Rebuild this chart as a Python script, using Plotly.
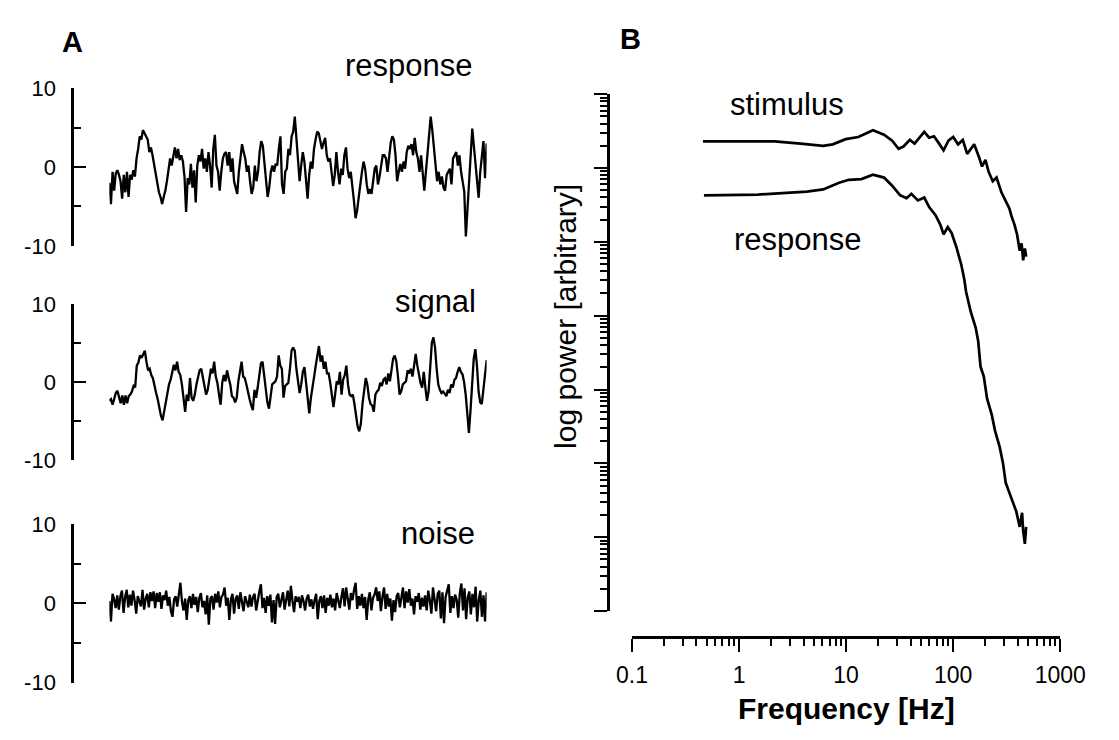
import numpy as np
import plotly.graph_objects as go

W, H = 1119, 740

# ---------------- Panel A data (time traces, arbitrary units) ----------------
response_trace = [
    -2.0, -4.7, -0.6, -3.0, -0.8, -0.4, -1.0, -1.8, -4.0, -1.0, -3.2, -0.6, -3.8, -1.0, -1.6, -0.4, -1.2,
    1.1, 2.3, 3.9, 3.5, 4.7, 4.3, 3.9, 3.5, 1.9, 2.5, 1.5, 0.2, -0.6, -2.2, -3.2, -3.8, -4.7, -3.8, -3.0,
    -1.8, -0.6, 1.1, 0.2, 1.5, 2.5, 1.1, 2.3, 0.9, 1.5, 0.7, -1.2, -5.7, -1.4, -2.2, 0.4, -2.6, -0.4, -4.5,
    0.2, 1.5, 0.7, 2.3, -0.2, 1.1, -0.6, 1.9, 0.2, -2.6, 2.3, 4.1, 0.2, -0.6, -3.0, -0.6, 1.1, 1.7, 1.9,
    0.2, 1.9, -0.6, 1.1, -1.8, -2.6, -3.4, -0.6, 1.5, 2.9, 1.9, 1.1, -0.6, 0.2, -1.8, -3.4, -2.6, 0.2,
    -1.8, -0.6, 1.9, 3.3, 2.7, 0.7, -1.4, -3.8, -2.6, -0.6, 0.2, -0.6, 0.4, 0.2, 2.3, 3.9,
    -2.2, -3.4, -0.6, -0.2, 2.3, 1.5, 3.9, 4.5, 6.4, 3.7, 0.7, -1.8, 0.2, 1.9, 0.7, -2.2, -4.0, -1.0, 0.7,
    -0.2, 2.3, 3.5, 4.5, 4.3, 3.1, 2.3, 3.1, 3.7, 1.5, 0.7, 1.1, -0.6, -2.4, -1.0, 1.9, -0.6, -2.2, -0.2,
    -1.0, 1.5, 2.5, -0.2, -1.4, -0.6, -2.2, -4.3, -6.5, -5.5, -3.8, -1.8, -0.6, 0.7, -0.2, -2.2, -3.4,
    -2.8, -3.4, -1.8, -0.2, 0.2, -2.2, -1.2, 0.2, 1.5, 1.5, 1.1, -0.6, 1.5, 3.1, 3.9, 3.5, 1.5, -1.8,
    -0.6, 0.4, -0.6, 0.7, -0.2, 1.9, 2.7, 2.3, 2.9, 1.5, 3.7, 1.9, 1.1, -0.6, 1.5, -1.0, -3.0, -0.6, 1.5,
    4.3, 6.4, 4.7, 2.7, 0.2, -1.8, -0.6, -2.2, -1.2, -2.6, -3.0, -1.0, -0.6, -0.2, -2.2, 1.1, 1.5, 1.9,
    0.2, 1.5,
    -0.6, -2.2, -3.1, -8.8, -5.1, -1.4, 2.2, 4.9, 2.7, 0.6, -1.4, -3.9, -0.6, 1.8, 3.3, -1.4, 3.0,
]

signal_trace = [
    -2.4, -2.2, -2.9, -2.0, -1.4, -1.1, -1.8, -2.7, -1.7, -2.9, -1.7, -2.7, -1.8, -1.6, -1.2, -0.5, -0.7,
    2.1, 2.5, 3.4, 3.1, 3.6, 4.0, 2.6, 1.5, 1.7, 0.9, 0.5, -0.7, -1.4, -2.2, -3.4, -4.3, -4.9, -3.6, -2.4,
    -1.6, -0.3, 0.3, 1.3, 2.2, 1.5, 2.6, 1.3, 0.9, -0.3, -2.0, -3.8, -1.6, -2.4, 0.5, -2.0, -2.4, -1.6,
    -0.3, 0.7, 1.5, 1.7, 0.5, -0.5, -1.6, -1.0, 0.5, 1.7, 1.1, 2.6, 0.7, -0.1, -1.6, -2.9, -0.1, 0.9, 0.1,
    1.5, 0.5, -0.3, -1.8, -2.0, -2.6, -2.0, 0.1, 1.3, 2.6, 0.7, 0.5, -0.3, -1.4, -2.2, -3.0, -3.6, -1.0,
    -2.0, -0.7, 0.7, 2.4, 2.6, 0.7, -1.2, -2.6, -3.4, -2.0, -0.3, -0.1, 0.1, 0.7, 3.4, 2.1,
    1.7, -2.0, -0.5, -0.3, -0.1, 1.7, 4.0, 4.4, 4.0, 1.7, -0.3, -1.4, -0.3, 1.3, 1.9, -0.3, -2.4, -4.0,
    -2.0, -0.3, 0.7, 2.1, 3.4, 4.6, 2.6, 3.4, 1.7, 2.6, 1.1, 1.1, -0.1, -1.4, -3.2, -1.6, 0.1, -0.3, 1.3,
    -1.6, 0.3, 0.9, 2.1, -0.3, -1.6, -1.8, -1.6, -2.8, -4.0, -5.7, -6.3, -5.3, -2.8, -0.7, 0.5, -0.3, -2.0,
    -2.8, -3.0, -3.8, -1.6, -1.2, -1.0, -0.1, -0.5, 0.3, 0.5, -0.3, 1.1, 0.1, 1.9, 3.0, 3.4, 2.6, 0.7,
    -1.6, -1.2, -0.3, -0.1, 0.1, 1.5, 1.1, 1.7, 0.7, 2.1, 3.6, 2.1, 0.9, -0.1, -0.7, 1.3, -0.7, -2.4,
    -1.2, 1.7, 5.0, 5.7, 4.4, 1.7, -0.3, -1.0, -1.4, -1.2, -1.6, -1.8, -1.0, -1.4, -0.3, -0.7, 0.3, 0.5,
    1.3, 1.9, 1.3,
    1.0, 0.0, -1.6, -4.0, -6.5, -3.6, -0.7, 3.0, 4.2, 2.1, -1.2, -2.6, -2.8, -0.7, 0.5, 2.8,
]

noise_trace = [
    0.3, -2.3, 1.2, 0.5, -0.6, 1.0, -0.8, 0.9, 1.6, -1.2,
    0.8, 1.7, -0.5, 1.1, -0.3, 1.6, 0.4, -1.3, 0.9, 0.2,
    -0.4, 1.7, -0.8, 0.6, 1.2, -0.5, 1.4, 0.3, 1.5, -0.6,
    1.3, 0.2, 1.4, -0.7, 1.0, 0.4, 1.6, -0.3, 0.8, -1.0,
    -1.7, 0.5, 0.9, -0.4, 1.1, 2.6, 0.2, -0.9, 0.6, -2.1,
    0.4, 0.9, -0.6, 1.2, -0.2, 0.8, -1.1, 0.7, 1.3, -0.5,
    0.3, -1.4, 1.0, -2.7, 0.6, 0.9, -0.8, 1.2, 0.1, 1.5,
    -0.5, 0.8, 1.1, 2.0, -0.3, 0.7, -2.1, 0.5, 1.2, -1.3,
    0.6, 1.0, -0.7, 1.4, 0.2, -1.0, 0.9, 0.3, -0.5, 1.1,
    -0.4, 0.8, 1.2, -0.9, 0.5, 1.5, 2.4, -0.6, 0.7, -1.2,
    0.9, -0.3, 1.1, -2.4, 0.4, -2.6, 0.8, 1.2, -0.5, 0.6,
    1.4, -0.8, 0.7, 1.6, -0.4, 2.2, 0.3, -1.1, 0.9, 0.2,
    0.8, -0.6, 1.0, 0.3, -0.9, 0.6, 1.1, -0.4, 0.5, -0.7,
    0.4, 1.2, -2.0, 0.3, 0.9, -0.6, 1.0, -1.2, 0.7, -0.3,
    1.1, -0.5, 0.6, -0.9, 1.3, 0.2, -0.6, 0.8, 1.9, -0.4,
    2.0, 0.6, -0.8, 1.3, 0.4, 1.7, 2.6, -0.7, 0.9, -0.3,
    1.2, -0.6, 0.8, -2.1, 0.5, 1.4, -0.9, 0.7, 1.1, 2.0,
    0.3, 1.5, -1.0, 0.8, 2.0, -0.7, 1.2, -0.4, 0.6, -2.2,
    0.4, -1.1, 0.9, 1.3, -0.5, 0.7, 2.0, -0.6, 1.5, 0.1,
    1.8, -0.3, 0.6, -1.4, 0.9, 0.2, 1.3, -0.8, 0.7, -0.4,
    1.0, -0.9, 1.6, 0.4, -1.3, 2.0, 0.5, -1.0, 1.2, 1.6,
    -1.9, 1.4, -2.5, 0.8, 1.6, 2.4, -1.2, 0.9, -0.6, 1.1,
    0.5, -1.8, 1.3, 2.5, -0.9, 1.9, -2.0, 0.7, 1.5, -1.4,
    1.2, -0.5, 2.1, -2.3, 0.4, 1.6, -1.7, 1.0, -2.3, 1.4,
]

trace_names = ["response", "signal", "noise"]
a_tickvals = [-10, 0, 10]
a_ticktext = ["-10", "0", "10"]

# ---------------- Panel B data (power spectra) ----------------
stim_freq = [0.46, 1.0, 2.15, 3.75, 6.1, 7.5, 9.9, 13.0, 17.8, 22.6, 26.9, 30.9, 34.3, 39.4, 43.6,
             48.4, 53.7, 59.6, 66.1, 72.3, 81.3, 90.2, 100, 111, 123, 135, 146, 157, 174, 186,
             200, 214, 234, 254, 282, 313, 335, 350, 374, 395, 418, 435, 450, 467, 480]
stim_logp = [6.36, 6.36, 6.36, 6.33, 6.30, 6.32, 6.39, 6.42, 6.51, 6.45, 6.37, 6.26, 6.29, 6.38, 6.33,
             6.41, 6.49, 6.41, 6.43, 6.35, 6.24, 6.37, 6.42, 6.32, 6.38, 6.19, 6.26, 6.32, 6.15, 6.02,
             6.11, 5.95, 5.82, 5.87, 5.67, 5.54, 5.45, 5.35, 5.23, 5.10, 4.88, 4.98, 4.75, 4.91, 4.80]

resp_freq = [0.47, 1.5, 4.3, 6.1, 8.6, 10.6, 13.9, 17.8, 22.6, 26.9, 32, 36.7, 40.7, 46.8, 53.7,
             59.6, 68.4, 75.9, 81.3, 88.9, 96.6, 107, 119, 127, 132, 146, 162, 171, 180, 193,
             207, 229, 246, 272, 292, 309, 333, 360, 388, 418, 440, 450, 467, 480]
resp_logp = [5.63, 5.64, 5.68, 5.71, 5.80, 5.84, 5.85, 5.91, 5.87, 5.76, 5.63, 5.59, 5.65, 5.56, 5.60,
             5.47, 5.36, 5.23, 5.10, 5.20, 5.12, 4.93, 4.69, 4.49, 4.32, 4.05, 3.84, 3.66, 3.31, 3.18,
             2.88, 2.66, 2.44, 2.22, 2.00, 1.74, 1.61, 1.48, 1.35, 1.14, 1.33, 1.09, 0.91, 1.14]

b_tickvals = [0.1, 1, 10, 100, 1000]
b_ticktext = ["0.1", "1", "10", "100", "1000"]

# ---------------- helpers (pixel -> paper) ----------------
def px(x):
    return x / W

def py(y):
    return 1 - y / H

FONT = "Liberation Sans"
fig = go.Figure()

# Panel A: three stacked traces, each with own axes
a_axes = [(79, 242), (302, 464), (530, 694)]   # pixel y of +10 and -10
label_pos = [(477, 55), (480, 300), (479, 540)]
for i, (name, vals) in enumerate(zip(trace_names, [response_trace, signal_trace, noise_trace])):
    k = "" if i == 0 else str(i + 1)
    t = np.linspace(0.0, 1.0, len(vals))
    fig.add_trace(go.Scatter(x=t, y=vals, mode="lines", xaxis="x" + k, yaxis="y" + k,
                             line=dict(color="black", width=2.3), showlegend=False,
                             hoverinfo="skip"))
    top, bot = a_axes[i]
    fig.layout["xaxis" + k] = dict(domain=[px(97), px(489)], range=[0, 1], visible=False,
                                   anchor="y" + k)
    fig.layout["yaxis" + k] = dict(
        domain=[py(bot), py(top)], range=[-10, 10], anchor="free", position=px(58.5),
        showline=True, linewidth=3, linecolor="black", showgrid=False, zeroline=False,
        ticks="inside", ticklen=12, tickwidth=2, tickcolor="black",
        tickmode="array", tickvals=a_tickvals, ticktext=a_ticktext,
        minor=dict(tickmode="array", tickvals=[-5, 5], ticks="inside", ticklen=7,
                   tickwidth=2, tickcolor="black", showgrid=False),
        tickfont=dict(family=FONT, size=22, color="black"), ticklabelstandoff=11,
    )
    lx, ly = label_pos[i]
    fig.add_annotation(text=name, x=px(lx), y=py(ly), xref="paper", yref="paper",
                       xanchor="right", yanchor="middle", showarrow=False,
                       font=dict(family=FONT, size=31, color="black"))

# Panel B: spectra on log-log axes
fig.add_trace(go.Scatter(x=stim_freq, y=[10 ** p for p in stim_logp], mode="lines",
                         xaxis="x4", yaxis="y4", line=dict(color="black", width=2.7),
                         showlegend=False, hoverinfo="skip"))
fig.add_trace(go.Scatter(x=resp_freq, y=[10 ** p for p in resp_logp], mode="lines",
                         xaxis="x4", yaxis="y4", line=dict(color="black", width=2.7),
                         showlegend=False, hoverinfo="skip"))

x_minor = [m * 10.0 ** e for e in range(-1, 3) for m in range(2, 10)]
y_minor = [m * 10.0 ** e for e in range(0, 7) for m in range(2, 10)]

fig.layout["xaxis4"] = dict(
    type="log", range=[-1, 3], domain=[px(640), px(1085)], anchor="free", position=py(647),
    showline=True, linewidth=3, linecolor="black", showgrid=False, zeroline=False,
    ticks="outside", ticklen=13, tickwidth=2, tickcolor="black",
    tickmode="array", tickvals=b_tickvals, ticktext=b_ticktext,
    minor=dict(tickmode="array", tickvals=x_minor, ticks="outside", ticklen=7, tickwidth=2,
               tickcolor="black", showgrid=False),
    tickfont=dict(family=FONT, size=23, color="black"), ticklabelstandoff=3,
)
fig.layout["yaxis4"] = dict(
    type="log", range=[0, 7], domain=[py(620), py(85)], anchor="free", position=px(615),
    showline=True, linewidth=3, linecolor="black", showgrid=False, zeroline=False,
    ticks="outside", ticklen=13, tickwidth=2, tickcolor="black",
    tickmode="array", tickvals=[10 ** k for k in range(0, 8)], showticklabels=False,
    minor=dict(tickmode="array", tickvals=y_minor, ticks="outside", ticklen=7, tickwidth=2,
               tickcolor="black", showgrid=False),
)

# Panel B texts
fig.add_annotation(text="stimulus", x=px(740), y=py(96), xref="paper", yref="paper",
                   xanchor="left", yanchor="middle", showarrow=False,
                   font=dict(family=FONT, size=31, color="black"))
fig.add_annotation(text="response", x=px(744), y=py(235), xref="paper", yref="paper",
                   xanchor="left", yanchor="middle", showarrow=False,
                   font=dict(family=FONT, size=31, color="black"))
fig.add_annotation(text="<b>Frequency [Hz]</b>", x=px(863), y=py(721), xref="paper", yref="paper",
                   xanchor="center", yanchor="middle", showarrow=False,
                   font=dict(family=FONT, size=30, color="black"))
fig.add_annotation(text="log power [arbitrary]", x=px(571), y=py(315), xref="paper", yref="paper",
                   xanchor="center", yanchor="middle", showarrow=False, textangle=-90,
                   font=dict(family=FONT, size=30, color="black"))

# Panel letters
fig.add_annotation(text="<b>A</b>", x=px(46), y=py(31), xref="paper", yref="paper",
                   xanchor="left", yanchor="middle", showarrow=False,
                   font=dict(family=FONT, size=29, color="black"))
fig.add_annotation(text="<b>B</b>", x=px(625), y=py(28), xref="paper", yref="paper",
                   xanchor="left", yanchor="middle", showarrow=False,
                   font=dict(family=FONT, size=29, color="black"))

fig.update_layout(width=W, height=H, autosize=False, margin=dict(l=0, r=0, t=0, b=0),
                  paper_bgcolor="white", plot_bgcolor="white", showlegend=False)

fig.write_html("out.html", config={"displayModeBar": False},
               post_script="document.body.style.margin='0';document.body.style.overflow='hidden';")
